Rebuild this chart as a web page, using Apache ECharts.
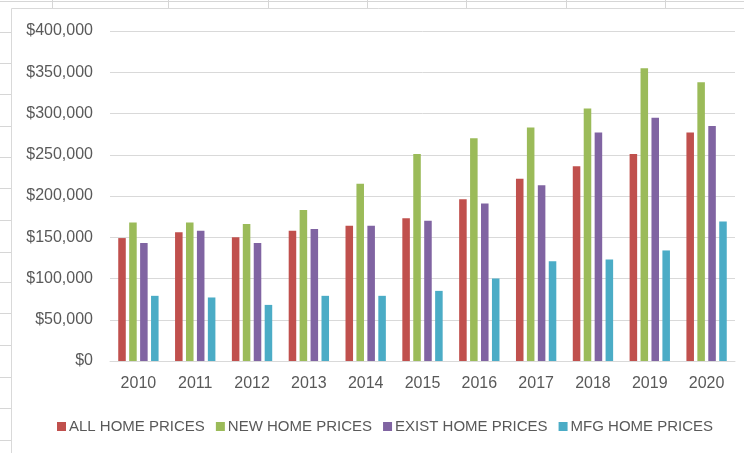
<!DOCTYPE html>
<html>
<head>
<meta charset="utf-8">
<script src="https://cdn.jsdelivr.net/npm/echarts@6/dist/echarts.min.js"></script>
<style>
html,body{margin:0;padding:0;background:#fff;}
#chart{width:744px;height:453px;}
</style>
</head>
<body>
<div id="chart"></div>
<script>
var years = ['2010','2011','2012','2013','2014','2015','2016','2017','2018','2019','2020'];
var seriesNames = ['ALL HOME PRICES','NEW HOME PRICES','EXIST HOME PRICES','MFG HOME PRICES'];
var allHome   = [149000,156000,150000,158000,164000,173000,196000,221000,236000,251000,277000];
var newHome   = [168000,168000,166000,183000,215000,251000,270000,283000,306000,355000,338000];
var existHome = [143000,158000,143000,160000,164000,170000,191000,213000,277000,295000,285000];
var mfgHome   = [79000,77000,68000,79000,79000,85000,100000,121000,123000,134000,169000];
var colors = ['#C0504D','#9BBB59','#8064A2','#4BACC6'];

var chart = echarts.init(document.getElementById('chart'));

// spreadsheet background decoration
var graphics = [];
var lineStyle = {stroke:'#d6d6d6', lineWidth:1};
graphics.push({type:'line', shape:{x1:0,y1:1.5,x2:744,y2:1.5}, style:lineStyle, silent:true});
[52,168,268,367,466,566,665].forEach(function(x){
  graphics.push({type:'line', shape:{x1:x+0.5,y1:0,x2:x+0.5,y2:8}, style:lineStyle, silent:true});
});
[32,63,94,126,157,188,220,252,282,313,345,377,408,440].forEach(function(y){
  graphics.push({type:'line', shape:{x1:0,y1:y+0.5,x2:11,y2:y+0.5}, style:lineStyle, silent:true});
});
graphics.push({type:'rect', shape:{x:11.5,y:8.5,width:760,height:460}, style:{fill:'#fff', stroke:'#d9d9d9', lineWidth:1}, silent:true, z:-1});

var dataSets = [allHome,newHome,existHome,mfgHome];
var series = dataSets.map(function(d,i){
  return {
    name: seriesNames[i],
    type: 'bar',
    data: d,
    barGap: '45%',
    barCategoryGap: '29%',
    itemStyle: {color: colors[i]}
  };
});

chart.setOption({
  animation: false,
  color: colors,
  textStyle: {fontFamily: 'Liberation Sans, Arial, sans-serif'},
  graphic: graphics,
  grid: {left:110, right:9, top:31, bottom:92},
  legend: {
    data: seriesNames,
    left: 52,
    top: 414,
    icon: 'rect',
    itemWidth: 9,
    itemHeight: 9,
    itemGap: 11,
    textStyle: {color:'#595959', fontSize:15, fontFamily:'Liberation Sans, Arial, sans-serif', padding:[0,0,0,-2]}
  },
  xAxis: {
    type: 'category',
    data: years,
    axisLine: {lineStyle:{color:'#d9d9d9'}},
    axisTick: {show:false},
    axisLabel: {color:'#595959', fontSize:16, margin:15}
  },
  yAxis: {
    type: 'value',
    min: 0,
    max: 400000,
    interval: 50000,
    axisLine: {show:false},
    axisTick: {show:false},
    splitLine: {lineStyle:{color:'#d9d9d9'}},
    axisLabel: {
      color:'#595959', fontSize:16, margin:17,
      formatter: function(v){ return '$' + v.toLocaleString('en-US'); }
    }
  },
  series: series
});
</script>
</body>
</html>
